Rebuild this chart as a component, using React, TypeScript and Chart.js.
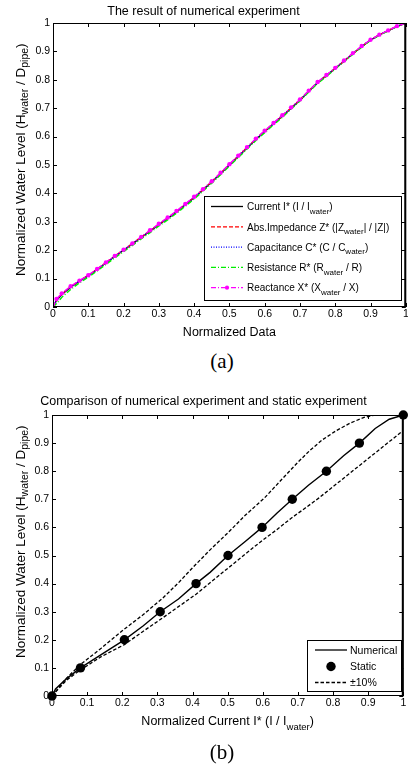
import React, { useEffect, useRef } from 'react';
import { Chart, registerables } from 'chart.js';

Chart.register(...registerables);

const FONT = '"Liberation Sans", Arial, Helvetica, sans-serif';
Chart.defaults.font.family = FONT;
Chart.defaults.color = '#000';

// ---------- shared axis ticks ----------
const axisTicks = [0, 0.1, 0.2, 0.3, 0.4, 0.5, 0.6, 0.7, 0.8, 0.9, 1];
const tickLabels = ['0', '0.1', '0.2', '0.3', '0.4', '0.5', '0.6', '0.7', '0.8', '0.9', '1'];

// ---------- chart (a) ----------
const titleA = 'The result of numerical experiment';
const normalizedData = [0, 0.01, 0.025, 0.05, 0.075, 0.1, 0.125, 0.15, 0.175, 0.2, 0.225, 0.25, 0.275, 0.3, 0.325, 0.35, 0.375, 0.4, 0.425, 0.45, 0.475, 0.5, 0.525, 0.55, 0.575, 0.6, 0.625, 0.65, 0.675, 0.7, 0.725, 0.75, 0.775, 0.8, 0.825, 0.85, 0.875, 0.9, 0.925, 0.95, 0.975, 1];
const currentLevel = [0, 0.024, 0.044, 0.07, 0.091, 0.11, 0.132, 0.155, 0.178, 0.2, 0.222, 0.245, 0.267, 0.29, 0.312, 0.335, 0.36, 0.385, 0.412, 0.44, 0.47, 0.5, 0.53, 0.56, 0.59, 0.618, 0.645, 0.672, 0.7, 0.728, 0.76, 0.79, 0.815, 0.84, 0.866, 0.892, 0.917, 0.94, 0.958, 0.973, 0.988, 1];
const impedanceLevel = [0, 0.025, 0.045, 0.071, 0.092, 0.111, 0.133, 0.156, 0.179, 0.201, 0.223, 0.246, 0.268, 0.291, 0.313, 0.336, 0.361, 0.386, 0.413, 0.441, 0.471, 0.501, 0.531, 0.561, 0.591, 0.619, 0.646, 0.673, 0.701, 0.729, 0.761, 0.79, 0.815, 0.84, 0.866, 0.892, 0.917, 0.94, 0.958, 0.973, 0.988, 1];
const capacitanceLevel = [0, 0.024, 0.044, 0.07, 0.091, 0.11, 0.132, 0.155, 0.178, 0.2, 0.222, 0.245, 0.267, 0.29, 0.312, 0.335, 0.36, 0.385, 0.412, 0.44, 0.47, 0.5, 0.53, 0.56, 0.59, 0.618, 0.645, 0.672, 0.7, 0.728, 0.76, 0.79, 0.815, 0.84, 0.866, 0.892, 0.917, 0.94, 0.958, 0.973, 0.988, 1];
const resistanceLevel = [0, 0.012, 0.034, 0.062, 0.085, 0.105, 0.127, 0.15, 0.173, 0.195, 0.217, 0.24, 0.262, 0.285, 0.307, 0.33, 0.355, 0.38, 0.408, 0.436, 0.466, 0.496, 0.526, 0.556, 0.586, 0.614, 0.641, 0.668, 0.697, 0.725, 0.757, 0.787, 0.812, 0.838, 0.864, 0.89, 0.915, 0.938, 0.957, 0.972, 0.987, 1];
const reactanceLevel = [0, 0.028, 0.048, 0.073, 0.093, 0.112, 0.134, 0.157, 0.18, 0.202, 0.224, 0.247, 0.27, 0.293, 0.315, 0.338, 0.363, 0.388, 0.415, 0.443, 0.473, 0.503, 0.533, 0.563, 0.593, 0.621, 0.648, 0.675, 0.703, 0.731, 0.762, 0.792, 0.817, 0.842, 0.868, 0.894, 0.919, 0.941, 0.959, 0.974, 0.989, 1];

// ---------- chart (b) ----------
const titleB = 'Comparison of numerical experiment and static experiment';
const numericalCurrent = [0, 0.01, 0.04, 0.081, 0.15, 0.206, 0.26, 0.308, 0.36, 0.41, 0.45, 0.501, 0.55, 0.598, 0.64, 0.684, 0.73, 0.781, 0.83, 0.875, 0.92, 0.96, 1.0];
const numericalLevel = [0, 0.025, 0.06, 0.1, 0.155, 0.2, 0.25, 0.3, 0.345, 0.4, 0.44, 0.5, 0.55, 0.6, 0.65, 0.7, 0.75, 0.8, 0.855, 0.9, 0.952, 0.985, 1.0];
const staticCurrent = [0, 0.081, 0.206, 0.308, 0.41, 0.501, 0.598, 0.684, 0.781, 0.875, 1.0];
const staticLevel = [0, 0.1, 0.2, 0.3, 0.4, 0.5, 0.6, 0.7, 0.8, 0.9, 1.0];
const upperCurrent = [0, 0.04, 0.081, 0.14, 0.203, 0.26, 0.315, 0.36, 0.403, 0.45, 0.5, 0.55, 0.605, 0.655, 0.7, 0.735, 0.77, 0.81, 0.85, 0.89, 0.92];
const upperLevel = [0, 0.062, 0.112, 0.17, 0.235, 0.29, 0.348, 0.403, 0.46, 0.52, 0.58, 0.643, 0.705, 0.772, 0.832, 0.875, 0.912, 0.945, 0.972, 0.992, 1.0];
const lowerCurrent = [0, 0.04, 0.081, 0.14, 0.206, 0.257, 0.315, 0.36, 0.41, 0.45, 0.501, 0.55, 0.598, 0.64, 0.68, 0.72, 0.76, 0.81, 0.87, 0.92, 0.96, 1.0];
const lowerLevel = [0, 0.055, 0.093, 0.14, 0.183, 0.228, 0.278, 0.318, 0.362, 0.403, 0.455, 0.505, 0.553, 0.592, 0.632, 0.668, 0.705, 0.755, 0.815, 0.865, 0.905, 0.945];

type Part = { t: string; sub?: boolean };

const yTitleParts: Part[] = [
  { t: 'Normalized Water Level (H' }, { t: 'water', sub: true }, { t: ' / D' }, { t: 'pipe', sub: true }, { t: ')' },
];
const xTitleA: Part[] = [{ t: 'Normalized Data' }];
const xTitleB: Part[] = [{ t: 'Normalized Current I* (I / I' }, { t: 'water', sub: true }, { t: ')' }];

const legendA = [
  { color: '#000000', dash: [] as number[], marker: '', parts: [{ t: 'Current I* (I / I' }, { t: 'water', sub: true }, { t: ')' }] as Part[] },
  { color: '#ff0000', dash: [4, 2], marker: '', parts: [{ t: 'Abs.Impedance Z* (|Z' }, { t: 'water', sub: true }, { t: '| / |Z|)' }] as Part[] },
  { color: '#0000ff', dash: [1, 1.5], marker: '', parts: [{ t: 'Capacitance C* (C / C' }, { t: 'water', sub: true }, { t: ')' }] as Part[] },
  { color: '#00ee00', dash: [5, 2, 1, 2], marker: '', parts: [{ t: 'Resistance R* (R' }, { t: 'water', sub: true }, { t: ' / R)' }] as Part[] },
  { color: '#ff00ff', dash: [5, 2, 1, 2], marker: 'dot', parts: [{ t: 'Reactance X* (X' }, { t: 'water', sub: true }, { t: ' / X)' }] as Part[] },
];
const legendB = [
  { color: '#000000', dash: [] as number[], marker: '', line: true, parts: [{ t: 'Numerical' }] as Part[] },
  { color: '#000000', dash: [] as number[], marker: 'circle', line: false, parts: [{ t: 'Static' }] as Part[] },
  { color: '#000000', dash: [3.5, 2], marker: '', line: true, parts: [{ t: '±10%' }] as Part[] },
];

function pts(xs: number[], ys: number[]) {
  return xs.map((x, i) => ({ x, y: ys[i] }));
}

function drawRich(ctx: CanvasRenderingContext2D, parts: Part[], x: number, y: number, size: number, subSize: number, subDy: number, align: 'left' | 'center') {
  ctx.textBaseline = 'alphabetic';
  ctx.textAlign = 'left';
  let w = 0;
  for (const p of parts) {
    ctx.font = `${p.sub ? subSize : size}px ${FONT}`;
    w += ctx.measureText(p.t).width;
  }
  let cx = align === 'center' ? x - w / 2 : x;
  for (const p of parts) {
    ctx.font = `${p.sub ? subSize : size}px ${FONT}`;
    ctx.fillText(p.t, cx, y + (p.sub ? subDy : 0));
    cx += ctx.measureText(p.t).width;
  }
}

type Deco = {
  xTitle: Part[];
  xTitleBaseline: number;
  yTitleStart: number;
  legendBox: [number, number, number, number];
  legendItems: { color: string; dash: number[]; marker: string; line?: boolean; parts: Part[] }[];
  legendY: number[];
  lineX: [number, number];
  textX: number;
  legendFont: number;
  legendSub: number;
  lineWidth: number;
};

function decoPlugin(d: Deco) {
  return {
    id: 'matlabDeco',
    afterDraw(chart: any) {
      const { ctx, chartArea: a, scales } = chart;
      const xs = scales.x;
      const ys = scales.y;
      const TL = 4;
      ctx.save();
      ctx.setLineDash([]);
      ctx.strokeStyle = '#000';
      ctx.fillStyle = '#000';
      ctx.lineWidth = 1;
      ctx.beginPath();
      for (const v of axisTicks) {
        const px = Math.round(xs.getPixelForValue(v)) + 0.5;
        ctx.moveTo(px, a.bottom); ctx.lineTo(px, a.bottom - TL);
        ctx.moveTo(px, a.top); ctx.lineTo(px, a.top + TL);
        const py = Math.round(ys.getPixelForValue(v)) + 0.5;
        ctx.moveTo(a.left, py); ctx.lineTo(a.left + TL, py);
        ctx.moveTo(a.right, py); ctx.lineTo(a.right - TL, py);
      }
      ctx.stroke();
      ctx.strokeRect(a.left + 0.5, a.top + 0.5, a.right - a.left - 1, a.bottom - a.top - 1);
      ctx.fillRect(a.right - 1.5, a.top, 2, a.bottom - a.top);

      // axis titles
      drawRich(ctx, d.xTitle, (a.left + a.right) / 2, d.xTitleBaseline, 12.5, 9.5, 4.5, 'center');
      ctx.save();
      ctx.translate(25, d.yTitleStart);
      ctx.rotate(-Math.PI / 2);
      drawRich(ctx, yTitleParts, 0, 0, 13.5, 10.5, 3, 'left');
      ctx.restore();

      // legend
      const [bx0, by0, bx1, by1] = d.legendBox;
      ctx.fillStyle = '#fff';
      ctx.fillRect(bx0, by0, bx1 - bx0, by1 - by0);
      ctx.strokeStyle = '#000';
      ctx.lineWidth = 1;
      ctx.strokeRect(bx0 + 0.5, by0 + 0.5, bx1 - bx0 - 1, by1 - by0 - 1);
      d.legendItems.forEach((it, i) => {
        const y = d.legendY[i];
        ctx.strokeStyle = it.color;
        ctx.fillStyle = it.color;
        if (it.line !== false) {
          ctx.lineWidth = d.lineWidth;
          ctx.setLineDash(it.dash);
          ctx.beginPath();
          ctx.moveTo(d.lineX[0], y);
          ctx.lineTo(d.lineX[1], y);
          ctx.stroke();
          ctx.setLineDash([]);
        }
        const mx = (d.lineX[0] + d.lineX[1]) / 2;
        if (it.marker === 'dot') {
          ctx.beginPath(); ctx.arc(mx, y, 2.1, 0, Math.PI * 2); ctx.fill();
        } else if (it.marker === 'circle') {
          ctx.beginPath(); ctx.arc(mx, y, 4.7, 0, Math.PI * 2); ctx.fill();
        }
        ctx.fillStyle = '#000';
        drawRich(ctx, it.parts, d.textX, y + 3.7, d.legendFont, d.legendSub, 3.5, 'left');
      });
      ctx.restore();
    },
  };
}

function tickLabel(value: number) {
  const i = axisTicks.findIndex((t) => Math.abs(t - value) < 1e-6);
  return i >= 0 ? tickLabels[i] : '';
}

function makeScales(yWidth: number, xHeight: number) {
  const base = {
    type: 'linear' as const,
    min: 0,
    max: 1,
    grid: { display: false, drawTicks: false },
    border: { display: false },
    afterBuildTicks: (s: any) => { s.ticks = axisTicks.map((v) => ({ value: v })); },
  };
  return {
    x: {
      ...base,
      position: 'bottom' as const,
      ticks: { callback: tickLabel, font: { size: 10.5 }, color: '#000', padding: 1, maxRotation: 0, minRotation: 0, autoSkip: false },
      afterFit: (s: any) => { s.height = xHeight; s.paddingLeft = 0; s.paddingRight = 0; },
    },
    y: {
      ...base,
      position: 'left' as const,
      ticks: { callback: tickLabel, font: { size: 10.5 }, color: '#000', padding: 3, autoSkip: false },
      afterFit: (s: any) => { s.width = yWidth; s.paddingTop = 0; s.paddingBottom = 0; },
    },
  };
}

function lineDs(label: string, xs: number[], ys: number[], color: string, dash: number[], order: number, width: number, extra: any = {}) {
  return {
    label,
    data: pts(xs, ys),
    showLine: true,
    borderColor: color,
    backgroundColor: color,
    borderWidth: width,
    borderDash: dash,
    pointRadius: 0,
    pointHoverRadius: 0,
    tension: 0,
    order,
    ...extra,
  };
}

function configA(): any {
  return {
    type: 'scatter',
    data: {
      datasets: [
        lineDs('Current I*', normalizedData, currentLevel, '#000000', [], 4, 1.4),
        lineDs('Abs.Impedance Z*', normalizedData, impedanceLevel, '#ff0000', [4, 2], 3, 1.4),
        lineDs('Capacitance C*', normalizedData, capacitanceLevel, '#0000ff', [1, 1.5], 2, 1.4),
        lineDs('Resistance R*', normalizedData, resistanceLevel, '#00ee00', [5, 2, 1, 2], 1, 1.4),
        lineDs('Reactance X*', normalizedData, reactanceLevel, '#ff00ff', [5, 2, 1, 2], 0, 1.5, {
          pointRadius: 2.2, pointBorderWidth: 0, pointBackgroundColor: '#ff00ff',
        }),
      ],
    },
    options: {
      responsive: false,
      animation: false,
      events: [],
      layout: { padding: { left: 0, right: 1, top: 0, bottom: 0 } },
      scales: makeScales(53, 38),
      plugins: {
        legend: { display: false },
        tooltip: { enabled: false },
        title: { display: true, text: titleA, color: '#000', font: { size: 12.5, weight: 'normal', lineHeight: 1.2 }, padding: { top: 4, bottom: 4 } },
      },
    },
    plugins: [decoPlugin({
      xTitle: xTitleA,
      xTitleBaseline: 336,
      yTitleStart: 276,
      legendBox: [204, 196, 402, 301],
      legendItems: legendA,
      legendY: [206.5, 226.8, 247.1, 267.4, 287.7],
      lineX: [211, 243],
      textX: 247,
      legendFont: 10,
      legendSub: 8,
      lineWidth: 1.3,
    })],
  };
}

function configB(): any {
  return {
    type: 'scatter',
    data: {
      datasets: [
        lineDs('Numerical', numericalCurrent, numericalLevel, '#000000', [], 1, 1.4),
        {
          label: 'Static',
          data: pts(staticCurrent, staticLevel),
          showLine: false,
          pointRadius: 4.7,
          pointHoverRadius: 4.7,
          pointBorderWidth: 0,
          pointBackgroundColor: '#000',
          borderColor: '#000',
          clip: false,
          order: 0,
        },
        lineDs('+10%', upperCurrent, upperLevel, '#000000', [3.5, 2], 2, 1.3),
        lineDs('-10%', lowerCurrent, lowerLevel, '#000000', [3.5, 2], 2, 1.3),
      ],
    },
    options: {
      responsive: false,
      animation: false,
      events: [],
      layout: { padding: { left: 0, right: 1, top: 0, bottom: 0 } },
      scales: makeScales(52, 44),
      plugins: {
        legend: { display: false },
        tooltip: { enabled: false },
        title: { display: true, text: titleB, color: '#000', font: { size: 12.5, weight: 'normal', lineHeight: 1.2 }, padding: { top: 4, bottom: 6 } },
      },
    },
    plugins: [decoPlugin({
      xTitle: xTitleB,
      xTitleBaseline: 335,
      yTitleStart: 268,
      legendBox: [307, 250, 402, 302],
      legendItems: legendB,
      legendY: [260, 276.5, 292.5],
      lineX: [315, 347],
      textX: 350,
      legendFont: 10.5,
      legendSub: 8,
      lineWidth: 1.3,
    })],
  };
}

const captionStyle = (top: number): React.CSSProperties => ({
  position: 'absolute',
  left: 222,
  top,
  transform: 'translate(-50%, -50%)',
  font: '21px "Liberation Serif", "Times New Roman", serif',
  lineHeight: '21px',
  whiteSpace: 'nowrap',
  color: '#000',
});

export default function App() {
  const refA = useRef<HTMLCanvasElement>(null);
  const refB = useRef<HTMLCanvasElement>(null);
  useEffect(() => {
    const ca = new Chart(refA.current as HTMLCanvasElement, configA());
    const cb = new Chart(refB.current as HTMLCanvasElement, configB());
    return () => { ca.destroy(); cb.destroy(); };
  }, []);
  return (
    <div style={{ position: 'absolute', left: 0, top: 0, width: 408, height: 765, background: '#fff', overflow: 'hidden' }}>
      <canvas ref={refA} width={408} height={345} style={{ position: 'absolute', left: 0, top: 0, width: 408, height: 345 }} />
      <div style={captionStyle(361)}>(a)</div>
      <canvas ref={refB} width={408} height={350} style={{ position: 'absolute', left: 0, top: 390, width: 408, height: 350 }} />
      <div style={captionStyle(752)}>(b)</div>
    </div>
  );
}
